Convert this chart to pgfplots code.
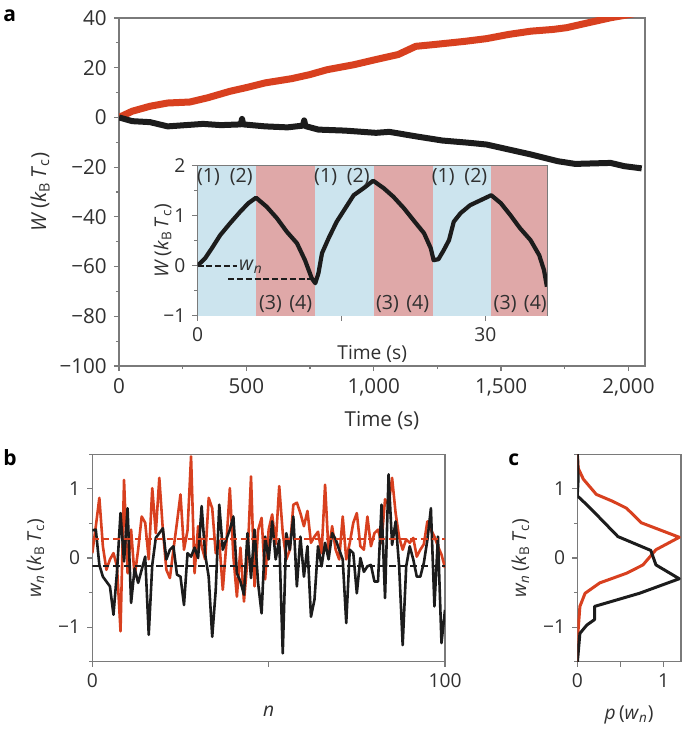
\documentclass[border=0pt]{standalone}
\usepackage{fontspec}
\setmainfont{Open Sans}
\usepackage{pgfplots}
\pgfplotsset{compat=1.18}
\definecolor{myred}{HTML}{D8401F}
\definecolor{myblack}{HTML}{1C1C1C}
\definecolor{bandblue}{HTML}{CCE4EE}
\definecolor{bandred}{HTML}{DFA8A8}
\definecolor{axgray}{HTML}{7A7A7A}
\definecolor{txt}{HTML}{303030}
\newcommand{\kT}{(\textit{k}\textsubscript{B}\,\textit{T}\textsubscript{c})}
\pgfplotsset{
  common/.style={scale only axis,
    axis line style={axgray, line width=0.6pt},
    tick style={axgray, line width=0.6pt},
    tick align=outside, major tick length=2.6pt, minor tick length=1.6pt,
    xtick pos=bottom, ytick pos=left,
    ticklabel style={font=\fontsize{10.3}{12}\selectfont, text=txt},
    label style={font=\fontsize{10.3}{12}\selectfont, text=txt},
    clip=true},
  small/.style={
    ticklabel style={font=\fontsize{9.6}{11}\selectfont},
    label style={font=\fontsize{9.6}{11}\selectfont}},
}
\pgfplotstableread{
n r b
0 0.07 0.40
1 0.46 0.41
2 0.87 -0.10
3 0.17 -0.27
4 -0.17 -0.34
5 -0.02 -0.41
6 0.07 -0.82
7 -0.12 -0.20
8 -1.06 0.65
9 1.13 -0.05
10 -0.22 0.72
11 0.41 -0.65
12 -0.27 -0.15
13 0.12 -0.36
14 0.60 -0.17
15 0.51 0.02
16 -0.02 -1.11
17 1.01 -0.10
18 0.36 0.29
19 1.16 0.36
20 0.41 0.43
21 -0.17 -0.02
22 -0.29 0.12
23 0.12 0.17
24 0.51 -0.24
25 0.92 -0.27
26 0.12 -0.68
27 0.40 0.07
28 1.47 0.02
29 -0.22 0.15
30 0.46 0.00
31 0.17 0.75
32 -0.02 0.05
33 0.87 -0.27
34 0.72 -1.14
35 0.07 -0.46
36 0.25 0.77
37 -0.46 0.12
38 0.20 0.27
39 1.01 0.41
40 0.02 0.60
41 -0.56 -0.22
42 0.15 -0.34
43 -0.63 -0.53
44 -0.02 0.36
45 1.18 -0.29
46 -0.41 0.41
47 0.40 -0.36
48 0.58 -0.80
49 -0.31 0.31
50 0.41 -0.02
51 0.63 0.53
52 0.20 -0.02
53 1.04 0.27
54 0.36 -1.38
55 -0.02 0.36
56 0.12 0.12
57 0.77 0.60
58 0.80 -0.41
59 0.65 0.31
60 0.46 -0.27
61 0.68 0.17
62 0.22 -0.85
63 0.31 -0.60
64 0.38 0.17
65 0.07 -0.12
66 1.06 0.22
67 0.07 -0.02
68 0.46 0.36
69 0.12 0.27
70 -0.02 0.12
71 0.60 -0.02
72 -0.02 -0.94
73 0.22 0.12
74 0.51 0.07
75 0.65 -0.51
76 0.17 0.00
77 0.12 -0.20
78 0.60 -0.12
79 0.17 -0.10
80 0.36 -0.34
81 0.41 -0.34
82 0.22 0.77
83 0.85 -0.58
84 0.77 1.21
85 1.16 0.19
86 0.65 0.53
87 0.30 -0.12
88 0.12 -1.26
89 0.27 -0.12
90 0.22 0.17
91 0.29 -0.02
92 0.02 -0.27
93 0.12 -0.27
94 0.20 -0.07
95 0.53 0.26
96 0.41 0.72
97 0.31 -0.70
98 0.17 0.31
99 0.05 -1.23
100 -0.14 -0.75
}\wndata
\begin{document}
\begin{tikzpicture}
\useasboundingbox (0,0) rectangle (342.5pt,-366pt);
% ---------------- panel a ----------------
\begin{axis}[common, at={(59.5pt,-183pt)}, anchor=south west,
  width=263pt, height=174pt,
  xmin=0, xmax=2065, ymin=-100, ymax=40,
  xtick={0,500,1000,1500,2000}, xticklabels={0,500,{1,000},{1,500},{2,000}},
  minor xtick={250,750,1250,1750},
  ytick={-100,-80,-60,-40,-20,0,20,40},
  yticklabels={−100,−80,−60,−40,−20,0,20,40},
  minor ytick={-90,-70,-50,-30,-10,10,30},
  xlabel={Time (s)}, ylabel={\textit{W}\,\kT},
  xlabel style={yshift=-1pt},
  ylabel style={at={(axis description cs:-0.15,0.5)}, anchor=center}]
\addplot[myred, line width=3.5pt, line join=round] coordinates {
(0,0)(52,2.5)(122,4.5)(191,5.8)(278,6.2)(348,7.9)(435,10.5)(504,12.1)(574,13.9)
(678,15.6)(748,17.2)(817,19.2)(922,21.2)(1009,23.3)(1096,25.3)(1165,28.6)(1235,29.3)
(1357,30.6)(1443,31.7)(1530,33.4)(1617,34.7)(1704,35.4)(1757,36.1)(1843,38.1)(1930,40.1)(2065,42.5)};
\addplot[myblack, line width=3pt, line join=round] coordinates {
(0,0)(52,-1.5)(122,-1.9)(191,-3.6)(261,-3.1)(330,-2.6)(400,-3.1)(478,-2.8)(483,-0.6)(488,-2.8)
(574,-3.6)(661,-4.0)(722,-3.3)(727,-1.2)(732,-3.5)(783,-4.9)(887,-5.3)(1009,-6.2)(1061,-5.8)
(1165,-7.6)(1270,-9.3)(1374,-10.2)(1443,-10.9)(1530,-12.9)(1617,-14.9)(1722,-17.6)
(1791,-18.7)(1930,-18.3)(1983,-19.6)(2052,-20.5)};
\end{axis}
% ---------------- inset ----------------
\begin{axis}[common, small, at={(98.75pt,-157.85pt)}, anchor=south west,
  width=174.7pt, height=75pt,
  xmin=0, xmax=36.4, ymin=-1, ymax=2,
  xtick={0,15,30}, xticklabels={0,,30},
  ytick={-1,0,1,2}, yticklabels={−1,0,1,2},
  minor ytick={-0.5,0.5,1.5},
  xlabel={Time (s)}, ylabel={\textit{W}\,\kT},
  xlabel style={yshift=5pt},
  ylabel style={at={(axis description cs:-0.10,0.5)}, anchor=center}]
\addplot[draw=none, fill=bandblue] coordinates {(0,-1)(6.1,-1)(6.1,2)(0,2)} -- cycle;
\addplot[draw=none, fill=bandred] coordinates {(6.1,-1)(12.2,-1)(12.2,2)(6.1,2)} -- cycle;
\addplot[draw=none, fill=bandblue] coordinates {(12.2,-1)(18.35,-1)(18.35,2)(12.2,2)} -- cycle;
\addplot[draw=none, fill=bandred] coordinates {(18.35,-1)(24.5,-1)(24.5,2)(18.35,2)} -- cycle;
\addplot[draw=none, fill=bandblue] coordinates {(24.5,-1)(30.6,-1)(30.6,2)(24.5,2)} -- cycle;
\addplot[draw=none, fill=bandred] coordinates {(30.6,-1)(36.4,-1)(36.4,2)(30.6,2)} -- cycle;
\addplot[myblack, line width=1.2pt, dash pattern=on 3pt off 1.4pt] coordinates {(0,0)(4.1,0)};
\addplot[myblack, line width=1.2pt, dash pattern=on 3pt off 1.4pt] coordinates {(3.2,-0.27)(12.1,-0.27)};
\addplot[myblack, line width=2.1pt, line join=round] coordinates {
(0,0)(0.8,0.15)(1.5,0.35)(2.36,0.61)(3.4,0.85)(4.45,1.08)(5.3,1.25)(6.1,1.36)
(7.2,1.18)(8.27,0.95)(9.3,0.68)(10.36,0.45)(11.2,0.11)(11.9,-0.25)(12.27,-0.35)
(12.6,-0.15)(12.97,0.25)(13.66,0.55)(14.5,0.88)(15.4,1.15)(16.27,1.41)(17.3,1.55)(18.3,1.7)
(19.4,1.55)(20.4,1.38)(21.5,1.15)(22.5,0.91)(23.6,0.65)(24.3,0.35)(24.6,0.11)
(25.1,0.13)(25.65,0.31)(26.2,0.51)(26.7,0.88)(27.4,1.05)(28.4,1.21)(29.5,1.31)(30.6,1.41)
(31.6,1.25)(32.6,1.01)(33.6,0.75)(34.7,0.51)(35.6,0.21)(36.1,-0.09)(36.4,-0.42)};
\begin{scope}[every node/.style={font=\fontsize{9.8}{11}\selectfont, text=txt, inner sep=1.2pt}]
\node[anchor=north] at (axis cs:1.15,2) {(1)};
\node[anchor=north] at (axis cs:4.55,2) {(2)};
\node[anchor=south] at (axis cs:7.6,-1) {(3)};
\node[anchor=south] at (axis cs:10.75,-1) {(4)};
\node[anchor=north] at (axis cs:13.35,2) {(1)};
\node[anchor=north] at (axis cs:16.75,2) {(2)};
\node[anchor=south] at (axis cs:19.8,-1) {(3)};
\node[anchor=south] at (axis cs:22.95,-1) {(4)};
\node[anchor=north] at (axis cs:25.6,2) {(1)};
\node[anchor=north] at (axis cs:29.0,2) {(2)};
\node[anchor=south] at (axis cs:32.05,-1) {(3)};
\node[anchor=south] at (axis cs:35.2,-1) {(4)};
\node[anchor=west, inner sep=0.5pt] at (axis cs:4.2,-0.02) {\textit{w}\textsubscript{\textit{n}}};
\end{scope}
\end{axis}
% ---------------- panel b ----------------
\begin{axis}[common, small, at={(46.15pt,-330.85pt)}, anchor=south west,
  width=176.35pt, height=103.7pt,
  xmin=0, xmax=100, ymin=-1.5, ymax=1.5,
  xtick={0,50,100}, xticklabels={0,,100},
  ytick={-1,0,1}, yticklabels={−1,0,1},
  minor ytick={-1.5,-0.5,0.5,1.5},
  xlabel={\textit{n}}, ylabel={\textit{w}\textsubscript{\textit{n}}\,\kT},
  xlabel style={yshift=-2pt},
  ylabel style={yshift=0pt}]
\addplot[myred, line width=1.3pt, line join=round] table[x=n, y=r] {\wndata};
\addplot[myblack, line width=1.3pt, line join=round] table[x=n, y=b] {\wndata};
\addplot[myred, line width=0.9pt, dash pattern=on 3.3pt off 2pt] coordinates {(0,0.27)(100,0.27)};
\addplot[myblack, line width=1.1pt, dash pattern=on 3.3pt off 2pt] coordinates {(0,-0.11)(100,-0.11)};
\end{axis}
% ---------------- panel c ----------------
\begin{axis}[common, small, at={(288.65pt,-330.85pt)}, anchor=south west,
  width=51.85pt, height=103.7pt,
  xmin=0, xmax=1.2, ymin=-1.5, ymax=1.5,
  xtick={0,0.5,1}, xticklabels={0,,1},
  ytick={-1,0,1}, yticklabels={−1,0,1},
  minor ytick={-1.5,-0.5,0.5,1.5},
  xlabel={\textit{p}\,(\textit{w}\textsubscript{\textit{n}})},
  ylabel={\textit{w}\textsubscript{\textit{n}}\,\kT},
  xlabel style={yshift=-2pt},
  ylabel style={yshift=0pt}]
\addplot[myred, line width=1.5pt, line join=round] coordinates {
(0,1.52)(0.01,1.3)(0.07,1.14)(0.22,0.92)(0.41,0.82)(0.57,0.72)(0.74,0.51)(1.18,0.30)
(0.91,0.12)(0.76,-0.10)(0.57,-0.22)(0.26,-0.36)(0.09,-0.51)(0.03,-0.70)(0.01,-1.04)(0,-1.52)};
\addplot[myblack, line width=1.5pt, line join=round] coordinates {
(0,1.52)(0.01,1.14)(0,0.9)(0.11,0.77)(0.26,0.58)(0.47,0.31)(0.85,0.11)(0.91,-0.10)
(1.18,-0.30)(0.72,-0.51)(0.20,-0.70)(0.20,-0.89)(0.11,-0.97)(0.03,-1.09)(0,-1.52)};
\end{axis}
% panel letters
\node[anchor=base west, font=\bfseries\fontsize{10.5}{12}\selectfont, inner sep=0pt] at (1.5pt,-11pt) {a};
\node[anchor=base west, font=\bfseries\fontsize{10.5}{12}\selectfont, inner sep=0pt] at (1.5pt,-232.5pt) {b};
\node[anchor=base west, font=\bfseries\fontsize{10.5}{12}\selectfont, inner sep=0pt] at (254pt,-232.5pt) {c};
\end{tikzpicture}
\end{document}
